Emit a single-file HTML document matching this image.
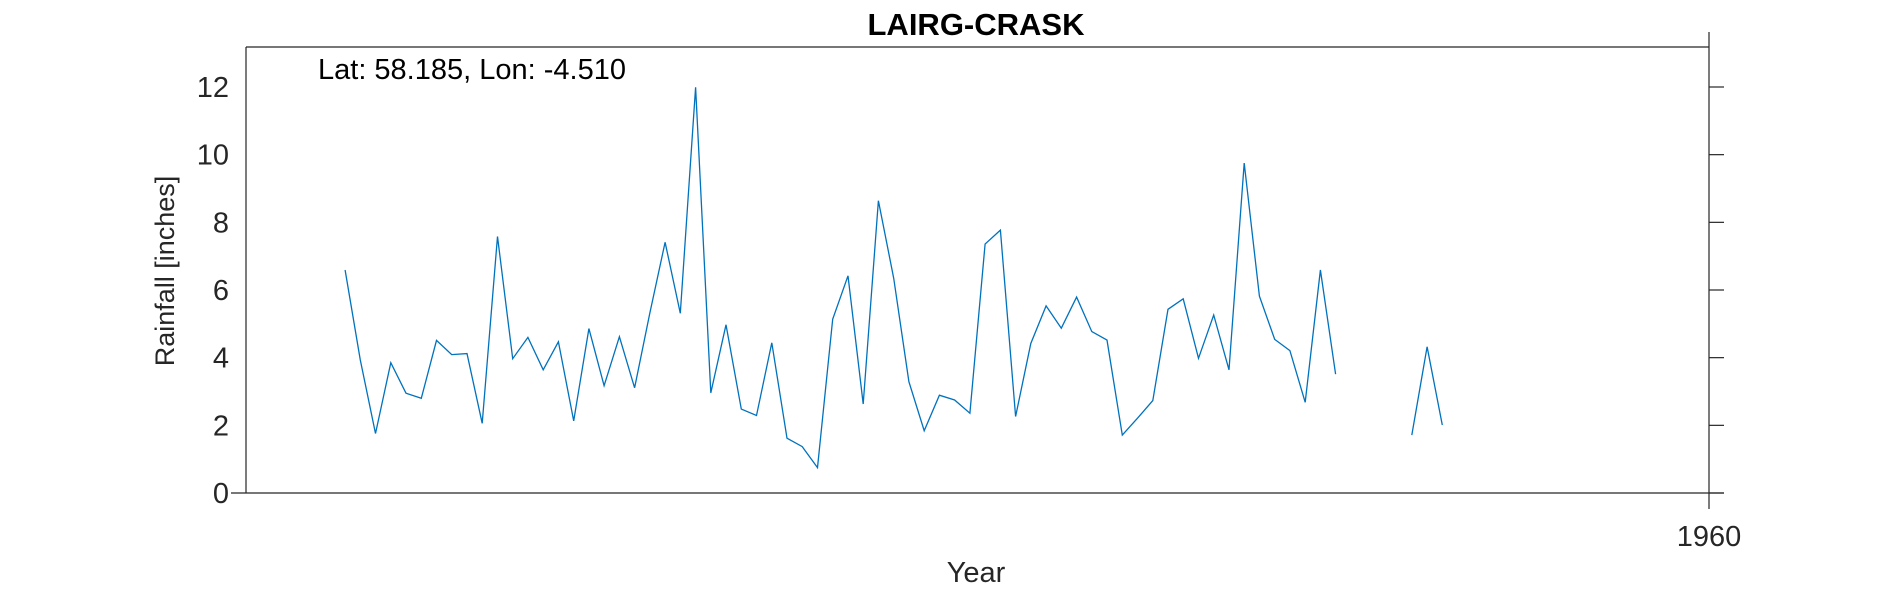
<!DOCTYPE html>
<html><head><meta charset="utf-8"><style>
html,body{margin:0;padding:0;background:#fff;}
svg{display:block;font-family:"Liberation Sans",Arial,sans-serif;}
</style></head><body>
<svg id="chart" width="1890" height="591" viewBox="0 0 1890 591">
<text x="976" y="35" text-anchor="middle" font-size="31" font-weight="bold" fill="#000">LAIRG-CRASK</text>
<g id="axes"></g>
<polyline id="series" fill="none" stroke="#0072BD" stroke-width="1.3"></polyline>
<text x="318" y="79" font-size="29" fill="#000">Lat: 58.185, Lon: -4.510</text>
<text x="976" y="582" text-anchor="middle" font-size="29" fill="#262626">Year</text>
<text transform="translate(174,271) rotate(-90)" text-anchor="middle" font-size="27" fill="#262626">Rainfall [inches]</text>
</svg>
<script>
const startYear = 1870.5;
const rainfall = [6.59,3.93,1.76,3.85,2.95,2.80,4.51,4.09,4.12,2.06,7.58,3.97,4.60,3.64,4.47,2.13,4.86,3.17,4.62,3.11,5.31,7.41,5.31,11.99,
2.96,4.97,2.48,2.29,4.44,1.62,1.37,0.75,5.14,6.42,2.63,8.64,6.35,3.29,1.84,2.89,2.75,2.36,7.36,7.77,2.26,4.42,5.53,4.87,5.79,
4.77,4.52,1.71,2.21,2.73,5.43,5.74,3.98,5.26,3.64,9.75,5.82,4.54,4.21,2.68,6.59,3.51,
null,null,null,null,1.71,4.32,2.01];
const yTicks = [0,2,4,6,8,10,12];
const xTicks = [1960];
const xMin = 1864, xMax = 1960, yMin = 0, yMax = 13.2;
const L = 246, R = 1709, T = 47, B = 493;
const yPerUnit = (B - 87) / 12;
function xs(v){ return L + (v - xMin) / (xMax - xMin) * (R - L); }
function ys(v){ return B - v * yPerUnit; }
const NS = "http://www.w3.org/2000/svg";
const axes = document.getElementById('axes');
function line(x1,y1,x2,y2,name){
  const l = document.createElementNS(NS,'line');
  l.setAttribute('x1',x1);l.setAttribute('y1',y1);l.setAttribute('x2',x2);l.setAttribute('y2',y2);
  l.setAttribute('stroke','#262626');l.setAttribute('stroke-width','1.2');
  
  
  axes.appendChild(l);
}
line(L,T,R,T,'top-border');
line(L,T,L,B,'y-axis-line');
line(231,B,1724,B,'x-axis-line');
line(R,32,R,509,'right-axis-line');
yTicks.forEach(v=>{
  line(R,ys(v),1724,ys(v),'y-tick');
  const t = document.createElementNS(NS,'text');
  t.setAttribute('x',229);t.setAttribute('y',ys(v)+10);
  t.setAttribute('text-anchor','end');t.setAttribute('font-size','29');t.setAttribute('fill','#262626');
  t.textContent = v;
  
  
  axes.appendChild(t);
});
xTicks.forEach(v=>{
  const t = document.createElementNS(NS,'text');
  t.setAttribute('x',xs(v));t.setAttribute('y',546);
  t.setAttribute('text-anchor','middle');t.setAttribute('font-size','29');t.setAttribute('fill','#262626');
  t.textContent = v;
  
  
  axes.appendChild(t);
});
const svg = document.getElementById('chart');
const base = document.getElementById('series');
let segs=[[]];
rainfall.forEach((v,i)=>{
  if(v===null){ if(segs[segs.length-1].length) segs.push([]); }
  else segs[segs.length-1].push(xs(startYear+i).toFixed(1)+','+ys(v).toFixed(1));
});
segs = segs.filter(s=>s.length);
base.setAttribute('points', segs[0].join(' '));
for(let k=1;k<segs.length;k++){
  const p = base.cloneNode();
  p.setAttribute('points', segs[k].join(' '));
  
  
  svg.insertBefore(p, base.nextSibling);
}
</script>
</body></html>
